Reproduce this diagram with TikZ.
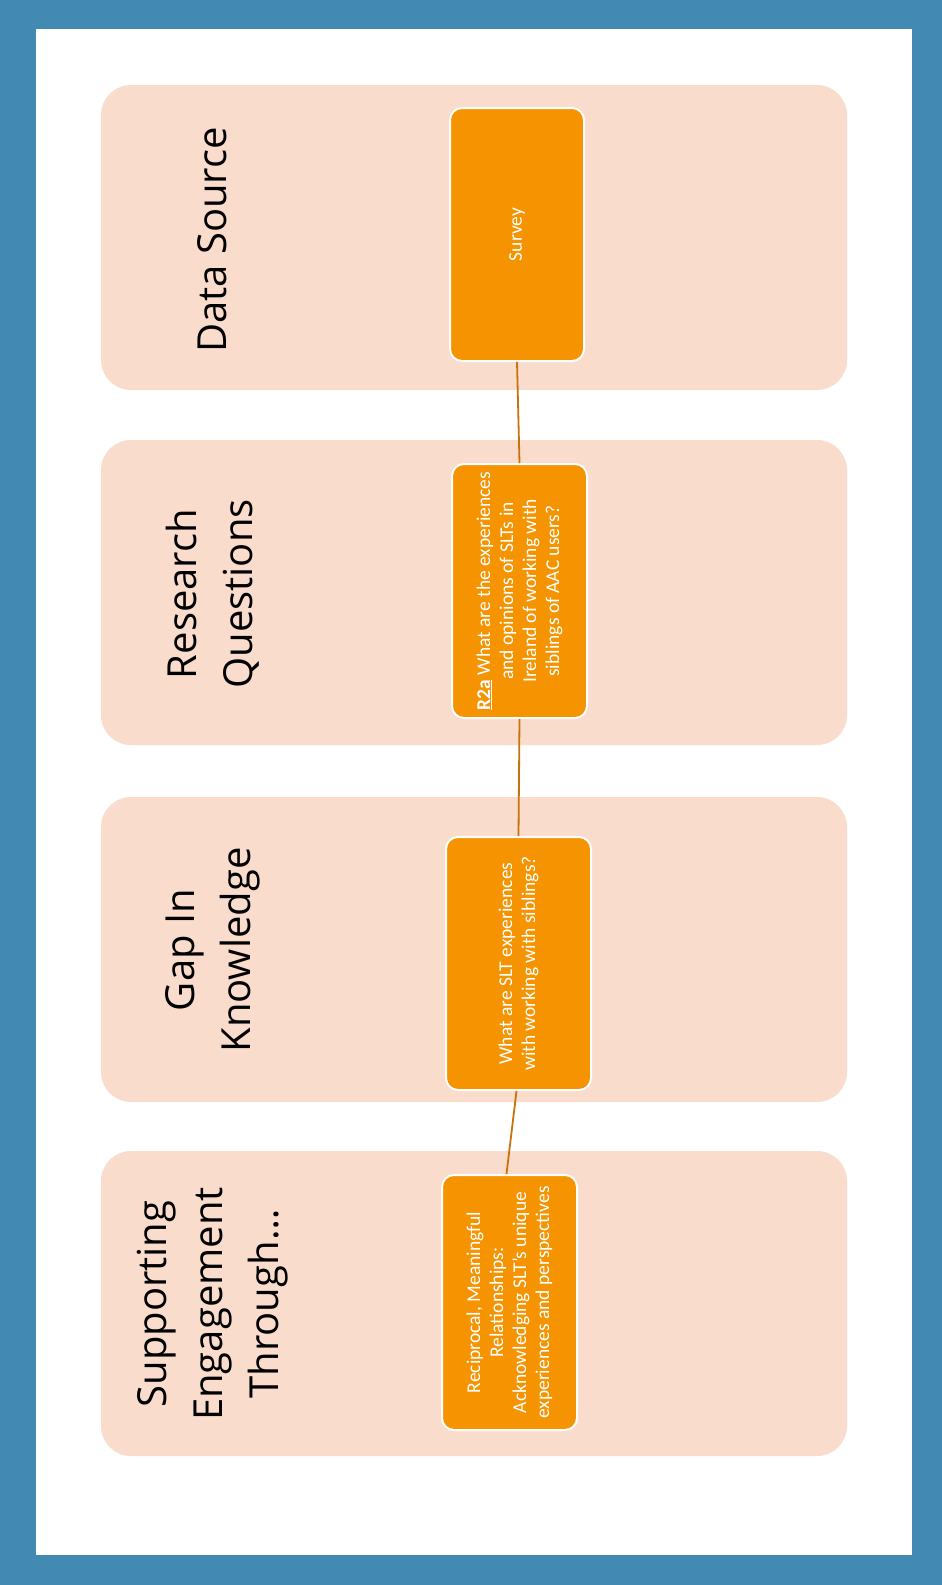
\documentclass[tikz,border=0pt]{standalone}
\usepackage{fontspec}
\setmainfont{Carlito}
\newfontfamily\headfont{Open Sans}
\definecolor{frameblue}{RGB}{66,137,180}
\definecolor{panelpeach}{RGB}{249,220,204}
\definecolor{steporange}{RGB}{245,147,0}
\definecolor{linkbrown}{RGB}{200,114,14}
\usetikzlibrary{arrows.meta,positioning}

\begin{document}
\begin{tikzpicture}[
  x=1pt, y=-1pt,
  panelbox/.style={
    rectangle, rounded corners=30pt,
    minimum width=746pt, minimum height=305pt,
    fill=panelpeach, inner sep=0pt
  },
  paneltitle/.style={
    rotate=90, align=center,
    font=\headfont\fontsize{40}{56}\selectfont,
    text=black
  },
  stepbox/.style={
    rectangle, rounded corners=12pt, rotate=90,
    draw=white, line width=2pt,
    fill=steporange,
    font=\fontsize{19.5}{23}\selectfont,
    align=center,
    text=white,
    minimum height=134pt
  },
  conn/.style={draw=linkbrown, line width=1.8pt}
]
% frame
\fill[frameblue] (0,0) rectangle (942,1585);
\fill[white] (36,29) rectangle (912,1555);

\node[panelbox] (datasrc) at (474,237.5)  {};
\node[panelbox] (resq)    at (474,592.5)  {};
\node[panelbox] (gapk)    at (474,949.5)  {};
\node[panelbox] (suppeng) at (474,1303.5) {};

\node[paneltitle] (t1) at (212,240)  {Data Source};
\node[paneltitle] (t2) at (213,594)  {Research\\Questions};
\node[paneltitle] (t3) at (213,950)  {Gap In\\Knowledge};
\node[paneltitle] (t4) at (213,1304) {Supporting\\Engagement\\Through\dots};

\node[stepbox, minimum width=253pt] (survey) at (517,234.5) {Survey};
\node[stepbox, minimum width=254pt, minimum height=135pt] (rqbox) at (519.5,591)
  {\underline{\textbf{R2a}} What are the experiences\\and opinions of SLTs in\\Ireland of working with\\siblings of AAC users?};
\node[stepbox, minimum width=253pt, minimum height=145pt] (gapbox) at (518.5,963.5)
  {What are SLT experiences\\with working with siblings?};
\node[stepbox, minimum width=255pt, minimum height=135pt] (supbox) at (509.5,1302.5)
  {Reciprocal, Meaningful\\Relationships:\\Acknowledging SLT’s unique\\experiences and perspectives};

\draw[conn] (survey.west) -- (rqbox.east);
\draw[conn] (rqbox.west) -- (gapbox.east);
\draw[conn] ([xshift=-2pt]gapbox.west) -- ([xshift=-3pt]supbox.east);
\end{tikzpicture}
\end{document}
